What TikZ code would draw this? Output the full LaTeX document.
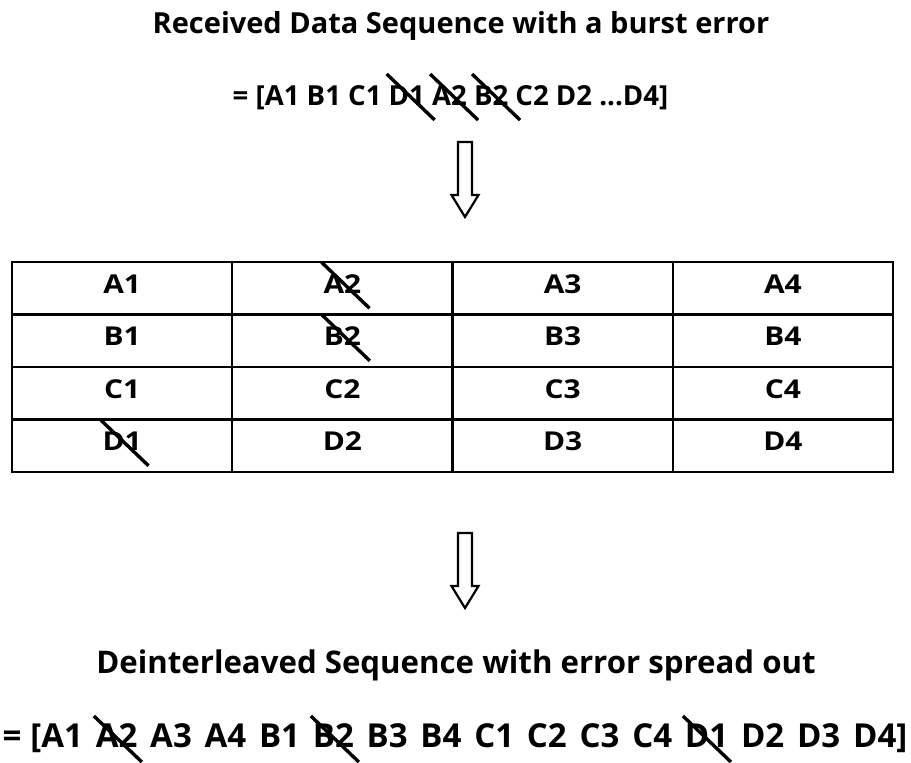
\documentclass[tikz,border=0pt]{standalone}
\usepackage{fontspec}
\setmainfont{Open Sans}
\newfontfamily\cellfont{Open Sans}[FakeStretch=1.15]
\usetikzlibrary{matrix}

% a word struck through with a heavy diagonal stroke
\newcommand\struck[1]{\tikz[baseline=(w.base)]{%
  \node[draw=none, inner sep=0pt, outer sep=0pt, minimum width=0pt, minimum height=0pt,
        text height=, text depth=, anchor=base](w){#1};%
  \draw[line width=3.4pt,overlay]([shift={(-2pt,31pt)}]w.base west)--([shift={(46pt,-15pt)}]w.base west);}}

\tikzset{
  headtext/.style={font=\bfseries\fontsize{29}{34}\selectfont, inner sep=0pt, anchor=base},
  seqtext/.style={font=\bfseries\fontsize{27.6}{32}\selectfont, inner sep=0pt, anchor=base},
  cell/.style={draw, line width=2.4pt, minimum width=220.25pt, minimum height=52.5pt,
    text height=19pt, text depth=9pt, inner sep=0pt, font=\cellfont\bfseries\fontsize{26}{30}\selectfont},
  hollowarrow/.style={line width=2.2pt, line join=miter},
}

\begin{document}
\begin{tikzpicture}[x=1pt,y=-1pt]
  \useasboundingbox (0,0) rectangle (911,763);

  \node[headtext] (title1) at (461,33) {Received Data Sequence with a burst error};
  \node[seqtext] (seq1) at (450.5,105) {= [A1 B1 C1 \struck{D1} \struck{A2} \struck{B2} C2 D2 ...D4]};

  % downward hollow arrow into the table
  \coordinate (arr1) at (465,142);
  \draw[hollowarrow] (arr1) ++(-7,0) -- ++(0,53) -- ++(-6.5,0) -- ++(13.5,22) -- ++(13.5,-22)
     -- ++(-6.5,0) -- ++(0,-53) -- cycle;

  \matrix (tbl) [matrix of nodes, nodes={cell}, row sep=-2.4pt, column sep=-2.4pt] at (452.5,367) {
    A1 & \struck{A2} & A3 & A4 \\
    B1 & \struck{B2} & B3 & B4 \\
    C1 & C2 & C3 & C4 \\
    \struck{D1} & D2 & D3 & D4 \\
  };

  % downward hollow arrow out of the table
  \coordinate (arr2) at (465,533);
  \draw[hollowarrow] (arr2) ++(-7,0) -- ++(0,53) -- ++(-6.5,0) -- ++(13.5,22) -- ++(13.5,-22)
     -- ++(-6.5,0) -- ++(0,-53) -- cycle;

  \node[headtext, font=\bfseries\fontsize{31.2}{36}\selectfont] (title2) at (456,673) {Deinterleaved Sequence with error spread out};
  \node[seqtext, font=\bfseries\fontsize{33}{38}\selectfont] (seq2) at (455,747) {\spaceskip=12.8pt\relax
    =\hspace{9pt}[A1 \struck{A2} A3 A4 B1 \struck{B2} B3 B4 C1 C2 C3 C4 \struck{D1} D2 D3 D4]};
\end{tikzpicture}
\end{document}
